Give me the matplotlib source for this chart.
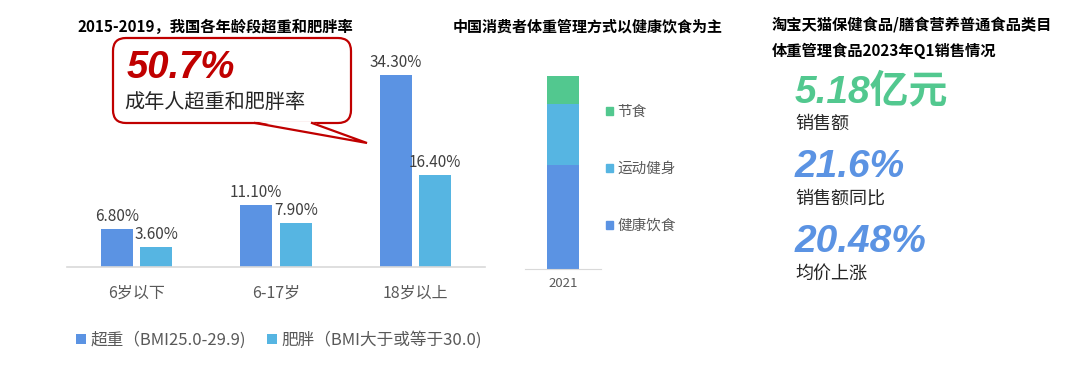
import numpy as np
import matplotlib.pyplot as plt
from matplotlib.patches import FancyBboxPatch, Polygon, Patch

plt.rcParams['font.family'] = ['Noto Sans CJK SC', 'DejaVu Sans']

# ---------------- data ----------------
age_groups = ['6岁以下', '6-17岁', '18岁以上']
overweight = [6.8, 11.1, 34.3]
obese = [3.6, 7.9, 16.4]
series_names = ['超重（BMI25.0-29.9)', '肥胖（BMI大于或等于30.0)']

year = ['2021']
methods = ['健康饮食', '运动健身', '节食']
method_share = [53.9, 31.6, 14.5]

kpi_values = ['5.18亿元', '21.6%', '20.48%']
kpi_labels = ['销售额', '销售额同比', '均价上涨']

# ---------------- style ----------------
BLUE = '#5B93E3'
LIGHT = '#56B5E2'
GREEN = '#52C88F'
RED = '#C00000'
GRAY = '#595959'
W, H = 1080, 373

fig = plt.figure(figsize=(W / 100, H / 100), dpi=100)
fig.patch.set_facecolor('white')


def fx(px):
    return px / W


def fy(py):
    return 1 - py / H


# ---------------- left chart ----------------
base, top = 267, 60
ax = fig.add_axes([fx(67), fy(base), fx(485 - 67), (base - top) / H])
x = np.arange(len(age_groups))
bw, off = 0.23, 0.142
b1 = ax.bar(x - off, overweight, bw, color=BLUE, label=series_names[0])
b2 = ax.bar(x + off, obese, bw, color=LIGHT, label=series_names[1])
ax.bar_label(b1, fmt='%.2f%%', padding=3, fontsize=11, color='#404040')
ax.bar_label(b2, fmt='%.2f%%', padding=3, fontsize=11, color='#404040')
ax.set_xlim(-0.5, 2.5)
ax.set_ylim(0, (base - top) / 5.6)
ax.set_xticks(x, age_groups, fontsize=11.5, color=GRAY)
ax.tick_params(axis='x', length=0, pad=13)
ax.set_yticks([])
for s in ['left', 'right', 'top']:
    ax.spines[s].set_visible(False)
ax.spines['bottom'].set_color('#D9D9D9')
ax.spines['bottom'].set_linewidth(1.2)
ax.patch.set_alpha(0)
fig.legend(handles=[b1, b2], loc='center', bbox_to_anchor=(fx(279), fy(340)),
           ncol=2, frameon=False, fontsize=12, labelcolor=GRAY,
           handlelength=0.6, handleheight=0.6, handletextpad=0.3, columnspacing=1.2)

# ---------------- middle chart ----------------
mbase, mtop = 269, 76
ax2 = fig.add_axes([fx(525), fy(mbase), fx(601 - 525), (mbase - mtop) / H])
cols = [BLUE, LIGHT, GREEN]
bottom = 0
handles = []
for name, v, c in zip(methods, method_share, cols):
    ax2.bar(year, [v], 0.41, bottom=bottom, color=c)
    bottom += v
    handles.append(Patch(color=c, label=name))
ax2.set_xlim(-0.5, 0.5)
ax2.set_ylim(0, 100)
ax2.set_yticks([])
ax2.tick_params(axis='x', length=0, pad=6, labelsize=9.5, labelcolor=GRAY)
for s in ['left', 'right', 'top']:
    ax2.spines[s].set_visible(False)
ax2.spines['bottom'].set_color('#D9D9D9')
ax2.patch.set_alpha(0)
fig.legend(handles=handles[::-1], loc='center left', bbox_to_anchor=(fx(606), fy(169)),
           frameon=False, fontsize=10.5, labelcolor=GRAY, labelspacing=2.95,
           borderpad=0, borderaxespad=0,
           handlelength=0.5, handleheight=0.5, handletextpad=0.3)

# ---------------- overlay: titles, callout, KPIs ----------------
ov = fig.add_axes([0, 0, 1, 1])
ov.set_xlim(0, W)
ov.set_ylim(H, 0)
ov.axis('off')

ov.text(77, 27, '2015-2019，我国各年龄段超重和肥胖率', fontsize=11, fontweight='bold',
        va='center', ha='left', color='black')
ov.text(453, 27, '中国消费者体重管理方式以健康饮食为主', fontsize=10.8, fontweight='bold',
        va='center', ha='left', color='black')
ov.text(772, 25, '淘宝天猫保健食品/膳食营养普通食品类目', fontsize=11, fontweight='bold',
        va='center', ha='left', color='black')
ov.text(772, 51, '体重管理食品2023年Q1销售情况', fontsize=11, fontweight='bold',
        va='center', ha='left', color='black')

# callout box
box = FancyBboxPatch((113, 38), 351 - 113, 123 - 38,
                     boxstyle='round,pad=0,rounding_size=13',
                     facecolor='white', edgecolor=RED, linewidth=1.6)
ov.add_patch(box)
ov.add_patch(Polygon([(256, 121.5), (367, 143), (311, 121.5)], closed=True,
                     facecolor='white', edgecolor='none', zorder=3))
ov.plot([255, 367, 312], [123, 143, 123], color=RED, lw=1.6, zorder=4,
        solid_joinstyle='miter')
ov.text(127, 68, '50.7%', fontsize=27.5, fontweight='bold', fontstyle='italic',
        family=['Liberation Sans', 'Noto Sans CJK SC'], color=RED, va='center', ha='left', zorder=5)
ov.text(124, 102, '成年人超重和肥胖率', fontsize=14.5, color='#262626',
        va='center', ha='left', zorder=5)

# KPI block
kpi_colors = [GREEN, BLUE, BLUE]
for i, (v, lab, c) in enumerate(zip(kpi_values, kpi_labels, kpi_colors)):
    y0 = 92 + i * 75
    ov.text(795, y0, v, fontsize=28, fontweight='bold', fontstyle='italic',
            family=['Liberation Sans', 'Noto Sans CJK SC'], color=c, va='center', ha='left')
    ov.text(795, y0 + 32, lab, fontsize=13, color='#262626', va='center', ha='left')

fig.savefig('out.png', dpi=100, facecolor='white')
